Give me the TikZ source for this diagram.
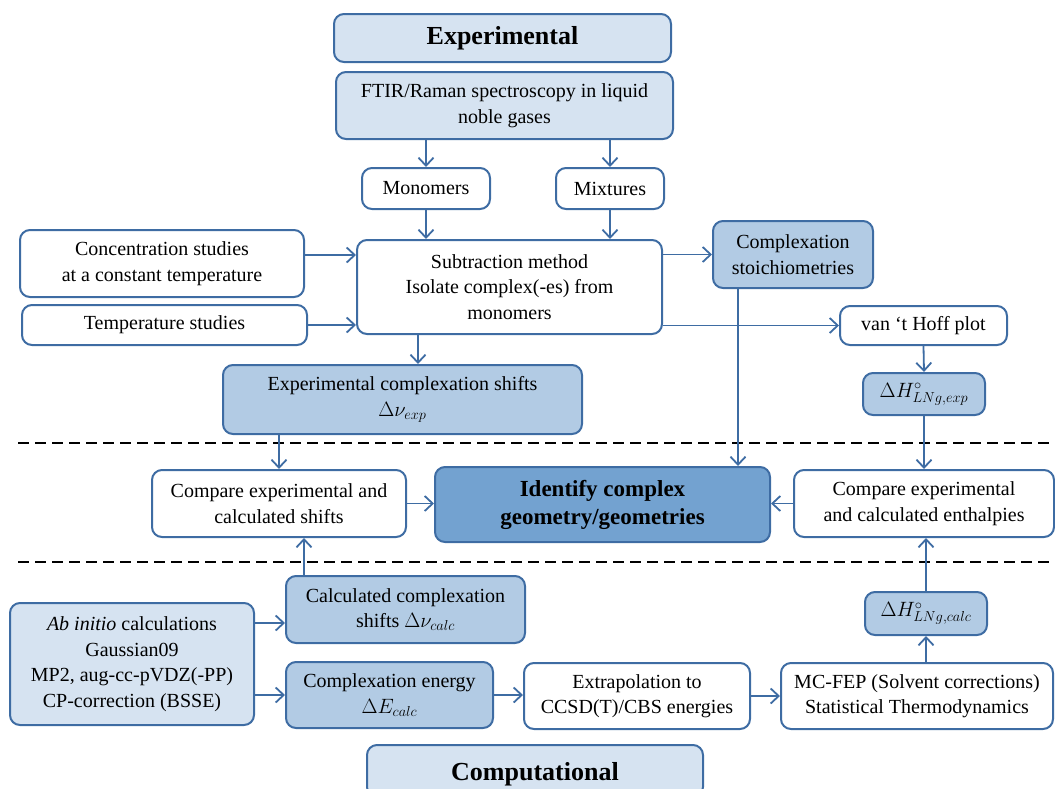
\documentclass[tikz,border=0pt]{standalone}
\usepackage{fontspec}
\setmainfont{Liberation Serif}
\usetikzlibrary{arrows.meta,calc}
\definecolor{bordc}{RGB}{62,108,163}
\definecolor{lightf}{RGB}{214,227,241}
\definecolor{midf}{RGB}{178,203,228}
\definecolor{darkf}{RGB}{115,162,208}
\begin{document}
\begin{tikzpicture}[x=1pt,y=-1pt,
  nbox/.style={draw=bordc, line width=2pt, rounded corners=10pt, align=center, inner sep=1pt, fill=white,
    font=\fontsize{20}{25.5}\selectfont},
  lbox/.style={nbox, fill=lightf},
  mbox/.style={nbox, fill=midf},
  sz/.style 2 args={minimum width=#1pt, minimum height=#2pt},
  conn/.style={draw=bordc, line width=1.8pt, -{Straight Barb[length=8pt,width=15pt]}},
  sep/.style={draw=black, line width=2pt, dash pattern=on 11pt off 6pt}]
\useasboundingbox (0,0) rectangle (1055,788);
% nodes
\node[lbox, sz={337}{48}, font=\fontsize{26}{30}\selectfont\bfseries] (exp) at (502.5,38) {Experimental};
\node[lbox, sz={337}{67}] (ftir) at (504.5,105.5) {FTIR/Raman spectroscopy in liquid\\noble gases};
\node[nbox, sz={128}{41}] (mono) at (426,188.5) {Monomers};
\node[nbox, sz={108}{41}] (mix) at (610,188.5) {Mixtures};
\node[nbox, sz={284}{67}] (conc) at (162,263.5) {Concentration studies\\at a constant temperature};
\node[nbox, sz={285}{40}] (temp) at (164.5,325) {Temperature studies};
\node[nbox, sz={305}{94}] (sub) at (509.5,287) {Subtraction method\\Isolate complex(-es) from\\monomers};
\node[mbox, sz={160}{67}] (stoich) at (793,254.5) {Complexation\\stoichiometries};
\node[nbox, sz={167}{39}] (vant) at (923.5,325.5) {van ‘t Hoff plot};
\node[mbox, sz={122}{42}] (hexp) at (924,394) {$\Delta H^{\circ}_{LNg,exp}$};
\node[mbox, sz={359}{69}] (expsh) at (402.5,399.5) {Experimental complexation shifts\\$\Delta\nu_{exp}$};
\node[nbox, sz={254}{67}] (cmpsh) at (279,503.5) {Compare experimental and\\calculated shifts};
\node[nbox, sz={335}{75}, fill=darkf, font=\fontsize{23}{28}\selectfont\bfseries] (ident) at (602.5,504.5) {Identify complex\\geometry/geometries};
\node[nbox, sz={260}{67}] (cmpen) at (924,503.5) {Compare experimental\\and calculated enthalpies};
\node[mbox, sz={239}{67}] (calcsh) at (405.5,609.5) {Calculated complexation\\shifts $\Delta\nu_{calc}$};
\node[lbox, sz={244}{122}] (abin) at (132,664) {\textit{Ab initio} calculations\\Gaussian09\\MP2, aug-cc-pVDZ(-PP)\\CP-correction (BSSE)};
\node[mbox, sz={207}{66}] (cen) at (389.5,695) {Complexation energy\\$\Delta E_{calc}$};
\node[nbox, sz={226}{66}] (extra) at (637,696) {Extrapolation to\\CCSD(T)/CBS energies};
\node[nbox, sz={272}{66}] (mcfep) at (917,696) {MC-FEP (Solvent corrections)\\Statistical Thermodynamics};
\node[mbox, sz={122}{43}] (hcalc) at (926,613.5) {$\Delta H^{\circ}_{LNg,calc}$};
\node[lbox, sz={336}{52}, font=\fontsize{26}{30}\selectfont\bfseries, text depth=0pt] (comp) at (535,771) {Computational};
% helper coordinates
\coordinate (yc) at (0,255);
\coordinate (xs) at (418,0);
\coordinate (xst) at (738,0);
\coordinate (xcs) at (304,0);
\coordinate (ya) at (0,623);
% dashed separators
\draw[sep] (18,443) -- (1055,443);
\draw[sep] (18,562) -- (1055,562);
% connectors
\draw[conn] (mono.north |- ftir.south) -- (mono.north);
\draw[conn] (mix.north |- ftir.south) -- (mix.north);
\draw[conn] (mono.south) -- (mono.south |- sub.north);
\draw[conn] (mix.south) -- (mix.south |- sub.north);
\draw[conn] (conc.east |- yc) -- (sub.west |- yc);
\draw[conn] (temp.east) -- (temp.east -| sub.west);
\draw[conn] (stoich.west -| sub.east) -- (stoich.west);
\draw[conn] (vant.west -| sub.east) -- (vant.west);
\draw[conn] (sub.south -| xs) -- (expsh.north -| xs);
\draw[conn] (stoich.south -| xst) -- (ident.north -| xst);
\draw[conn] (vant.south) -- (hexp.north);
\draw[conn] (hexp.south) -- (cmpen.north);
\draw[conn] (expsh.south -| cmpsh.north) -- (cmpsh.north);
\draw[conn] (cmpsh.east) -- (cmpsh.east -| ident.west);
\draw[conn] (cmpen.west) -- (cmpen.west -| ident.east);
\draw[conn] (calcsh.north -| xcs) -- (cmpsh.south -| xcs);
\draw[conn] (abin.east |- ya) -- (calcsh.west |- ya);
\draw[conn] (abin.east |- cen.west) -- (cen.west);
\draw[conn] (cen.east) -- (cen.east -| extra.west);
\draw[conn] (extra.east) -- (extra.east -| mcfep.west);
\draw[conn] (mcfep.north -| hcalc.south) -- (hcalc.south);
\draw[conn] (hcalc.north) -- (hcalc.north |- cmpen.south);
\end{tikzpicture}
\end{document}
